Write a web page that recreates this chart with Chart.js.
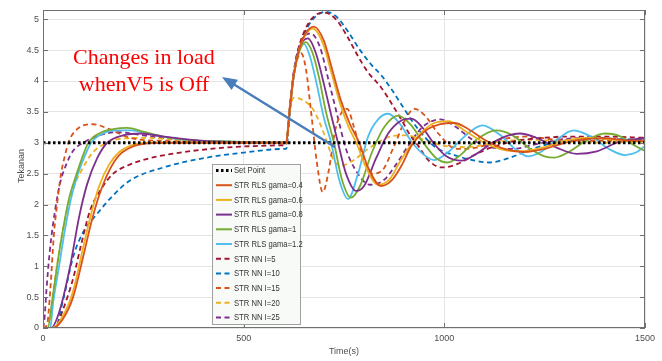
<!DOCTYPE html>
<html lang="en">
  <head>
    <meta charset="UTF-8" />
    <title>Tekanan vs Time</title>
    <script src="https://cdn.jsdelivr.net/npm/chart.js"></script>
    <style>
      body {
        margin: 0;
        background: #fff;
      }
      .wrap {
        position: relative;
        width: 662px;
        height: 361px;
      }
      .note {
        position: absolute;
        left: 44px;
        top: 43px;
        width: 200px;
        text-align: center;
        color: #ff0000;
        font-family: "Liberation Serif", "Times New Roman", serif;
        font-size: 22px;
        line-height: 27px;
      }
    </style>
  </head>
  <body>
    <div class="wrap">
      <canvas id="chart" width="662" height="361"></canvas>
      <div class="note">Changes in load<br />whenV5 is Off</div>
    </div>

    <script>
      // axis ticks
      var xTicks = [0, 500, 1000, 1500];
      var yTicks = [0, 0.5, 1, 1.5, 2, 2.5, 3, 3.5, 4, 4.5, 5];

      // set point
      var spT = [0, 1500];
      var spV = [3, 3];

      // STR RLS
      var rls04T = [0,25,50,75,100,120,140,165,190,220,260,300,600,606,615,625,640,655,675,700,720,742,765,788,810,842,870,895,918,950,990,1025,1060,1100,1150,1200,1250,1300,1350,1400,1450,1500];
      var rls04V = [0,0,0.15,0.5,1.15,1.7,2.15,2.55,2.8,2.93,2.99,3,3,3,3.55,4.1,4.55,4.78,4.88,4.65,4.2,3.69,3.3,3.0,2.6,2.3,2.4,2.65,2.95,3.18,3.3,3.32,3.22,3.05,2.9,2.85,2.9,3.0,3.06,3.07,3.04,3.03];

      var rls06T = [0,22,50,75,100,120,140,165,190,220,260,600,606,615,625,640,655,672,698,718,742,762,782,805,835,865,890,915,945,975,1010,1050,1100,1150,1190,1250,1300,1350,1400,1450,1500];
      var rls06V = [0,0,0.2,0.6,1.3,1.85,2.3,2.65,2.85,2.96,3,3,3,3.55,4.1,4.55,4.76,4.85,4.6,4.15,3.6,3.25,2.98,2.6,2.32,2.42,2.7,2.95,3.18,3.32,3.35,3.2,3.0,2.88,2.86,2.93,3.03,3.08,3.06,3.03,3.02];

      var rls08T = [0,20,40,67,90,110,135,160,200,243,300,400,600,606,615,625,640,660,680,700,718,735,755,780,800,830,860,890,918,945,975,1005,1043,1080,1120,1160,1188,1230,1280,1330,1380,1430,1500];
      var rls08V = [0,0,0.25,0.98,1.8,2.33,2.75,3.0,3.12,3.15,3.1,3.03,3.0,3.0,3.55,4.1,4.55,4.69,4.45,3.95,3.45,3.0,2.5,2.22,2.3,2.75,3.15,3.35,3.39,3.25,2.98,2.78,2.71,2.82,3.0,3.12,3.15,3.08,2.92,2.82,2.86,3.0,3.08];

      var rls10T = [0,12,22,35,50,65,84,100,113,140,175,210,250,300,350,450,600,606,615,625,640,655,672,688,705,725,745,767,790,820,850,885,915,950,980,1008,1040,1080,1130,1170,1210,1250,1275,1310,1350,1400,1440,1475,1500];
      var rls10V = [0,0,0.4,1.0,1.6,2.1,2.5,2.8,3.0,3.15,3.22,3.24,3.18,3.1,3.05,3.02,3.0,3.0,3.55,4.1,4.5,4.63,4.45,4.05,3.5,3.0,2.4,2.11,2.3,2.85,3.25,3.44,3.3,2.98,2.75,2.68,2.8,3.05,3.2,3.12,2.92,2.78,2.76,2.85,3.02,3.15,3.1,2.95,2.87];

      var rls12T = [0,18,25,40,55,70,90,105,120,150,185,220,260,300,350,450,600,606,615,625,638,650,665,682,700,718,738,760,785,810,835,860,890,920,950,975,1010,1050,1095,1140,1180,1208,1240,1280,1322,1370,1410,1450,1480,1500];
      var rls12V = [0,0,0.4,1.0,1.6,2.1,2.55,2.8,3.0,3.15,3.2,3.2,3.15,3.1,3.05,3.02,3.0,3.0,3.55,4.1,4.5,4.6,4.4,3.95,3.4,3.0,2.4,2.09,2.5,3.1,3.38,3.47,3.3,3.0,2.8,2.72,2.85,3.1,3.28,3.12,2.88,2.78,2.85,3.05,3.2,3.08,2.9,2.8,2.85,2.95];

      // STR NN
      var nn5T = [0,30,50,75,95,117,145,175,210,260,330,417,500,600,606,615,625,640,660,680,700,730,760,785,810,842,870,895,915,935,960,993,1030,1080,1120,1180,1248,1300,1400,1500];
      var nn5V = [0,0,0.3,0.8,1.35,1.9,2.25,2.5,2.63,2.74,2.83,2.9,2.94,2.96,2.97,3.55,4.15,4.6,4.92,5.07,5.11,5.0,4.7,4.4,4.14,3.9,3.62,3.35,3.12,2.95,2.72,2.6,2.65,2.82,2.93,3.03,3.08,3.1,3.1,3.08];

      var nn10T = [0,30,50,75,100,135,175,217,300,417,500,600,606,615,625,640,660,680,705,730,760,790,820,842,870,895,920,950,980,1025,1070,1112,1160,1210,1260,1320,1400,1500];
      var nn10V = [0,0,0.45,1.15,1.55,1.85,2.15,2.39,2.6,2.77,2.84,2.9,2.9,3.5,4.1,4.55,4.88,5.05,5.12,5.05,4.8,4.5,4.25,4.1,3.85,3.6,3.35,3.1,2.92,2.8,2.72,2.68,2.75,2.88,2.98,3.04,3.06,3.05];

      var nn15T = [0,10,18,27,35,45,55,63,85,125,165,217,300,600,606,615,628,643,655,668,682,697,712,728,745,758,775,795,820,845,875,905,925,950,985,1030,1080,1140,1200,1280,1400,1500];
      var nn15V = [0,0.05,0.6,1.5,2.0,2.5,2.8,3.0,3.22,3.3,3.22,3.08,3.03,3.0,3.0,3.6,4.2,4.45,4.2,3.5,2.7,2.2,2.55,3.2,3.5,3.55,3.25,2.8,2.5,2.55,2.95,3.4,3.55,3.45,3.15,2.9,2.92,3.05,3.1,3.05,3.03,3.04];

      var nn20T = [0,15,30,50,75,100,125,150,180,250,350,600,606,612,625,650,675,700,725,742,770,810,860,900,950,1000,1060,1120,1200,1300,1400,1500];
      var nn20V = [0,0.1,0.8,1.6,2.25,2.6,2.85,2.97,3.05,3.08,3.04,3.0,3.0,3.4,3.73,3.68,3.52,3.15,2.71,2.63,2.7,2.9,3.09,3.12,3.05,2.95,2.93,3.0,3.05,3.02,3.0,3.02];

      var nn25T = [0,3,9,17,30,42,58,75,100,140,185,250,320,400,600,606,615,625,640,667,690,712,735,755,775,815,850,880,910,945,990,1030,1070,1120,1170,1230,1300,1380,1450,1500];
      var nn25V = [0,0.1,0.65,1.25,1.9,2.33,2.65,2.87,3.0,3.12,3.17,3.12,3.06,3.03,3.0,3.0,3.55,4.15,4.6,4.77,4.55,4.0,3.4,2.9,2.6,2.32,2.4,2.65,2.95,3.25,3.38,3.25,3.05,2.92,2.9,2.98,3.06,3.08,3.05,3.04];

      function pts(t, v) {
        return t.map(function (x, i) {
          return { x: x, y: v[i] };
        });
      }

      var DASH = [5, 3.5];

      function series(label, t, v, color, dashed) {
        return {
          label: label,
          data: pts(t, v),
          borderColor: color,
          borderWidth: 1.8,
          borderDash: dashed ? DASH : [],
          pointRadius: 0,
          fill: false,
          cubicInterpolationMode: "monotone",
        };
      }

      var datasets = [
        {
          label: "Set Point",
          data: pts(spT, spV),
          borderColor: "#000",
          borderWidth: 3,
          borderDash: [2.5, 2.5],
          pointRadius: 0,
          fill: false,
        },
        series("STR RLS gama=0.4", rls04T, rls04V, "#D95319", false),
        series("STR RLS gama=0.6", rls06T, rls06V, "#EDB120", false),
        series("STR RLS gama=0.8", rls08T, rls08V, "#7E2F8E", false),
        series("STR RLS gama=1", rls10T, rls10V, "#77AC30", false),
        series("STR RLS gama=1.2", rls12T, rls12V, "#4DBEEE", false),
        series("STR NN I=5", nn5T, nn5V, "#A2142F", true),
        series("STR NN I=10", nn10T, nn10V, "#0072BD", true),
        series("STR NN I=15", nn15T, nn15V, "#D95319", true),
        series("STR NN I=20", nn20T, nn20V, "#EDB120", true),
        series("STR NN I=25", nn25T, nn25V, "#7E2F8E", true),
      ];

      var TXT = "#4d4d4d";
      var FONT = '"Liberation Sans", Arial, sans-serif';

      // box, inner ticks, axis titles, legend and arrow
      var extras = {
        id: "extras",
        afterDraw: function (chart) {
          var ctx = chart.ctx;
          var a = chart.chartArea;
          var xs = chart.scales.x;
          var ys = chart.scales.y;
          ctx.save();

          // frame
          ctx.strokeStyle = "#707070";
          ctx.lineWidth = 1;
          ctx.setLineDash([]);
          ctx.strokeRect(a.left + 0.5, a.top + 0.5, a.right - a.left - 1, a.bottom - a.top - 1);

          // inner tick marks like matlab
          ctx.beginPath();
          xTicks.forEach(function (v) {
            var px = Math.round(xs.getPixelForValue(v)) + 0.5;
            ctx.moveTo(px, a.bottom);
            ctx.lineTo(px, a.bottom - 5);
            ctx.moveTo(px, a.top);
            ctx.lineTo(px, a.top + 5);
          });
          yTicks.forEach(function (v) {
            var py = Math.round(ys.getPixelForValue(v)) + 0.5;
            ctx.moveTo(a.left, py);
            ctx.lineTo(a.left + 5, py);
            ctx.moveTo(a.right, py);
            ctx.lineTo(a.right - 5, py);
          });
          ctx.stroke();

          // axis titles
          ctx.fillStyle = TXT;
          ctx.font = "9px " + FONT;
          ctx.textAlign = "center";
          ctx.textBaseline = "middle";
          ctx.fillText("Time(s)", (a.left + a.right) / 2, 352);
          ctx.save();
          ctx.translate(22, 166);
          ctx.rotate(-Math.PI / 2);
          ctx.fillText("Tekanan", 0, 0);
          ctx.restore();

          // legend
          var lx = 212, ly = 164, lw = 88, lh = 160;
          ctx.fillStyle = "#f8faf8";
          ctx.fillRect(lx, ly, lw, lh);
          ctx.strokeStyle = "#a0a0a0";
          ctx.strokeRect(lx + 0.5, ly + 0.5, lw, lh);
          chart.data.datasets.forEach(function (ds, i) {
            var y = 170.5 + i * 14.7;
            ctx.strokeStyle = ds.borderColor;
            ctx.lineWidth = i === 0 ? 3 : 2;
            ctx.setLineDash(ds.borderDash || []);
            ctx.beginPath();
            ctx.moveTo(216, y);
            ctx.lineTo(232, y);
            ctx.stroke();
            ctx.setLineDash([]);
            ctx.save();
            ctx.translate(234, y);
            ctx.scale(0.9, 1);
            ctx.fillStyle = "#333";
            ctx.font = "8.5px " + FONT;
            ctx.textAlign = "left";
            ctx.textBaseline = "middle";
            ctx.fillText(ds.label, 0, 0.5);
            ctx.restore();
          });

          // arrow to the annotation
          var x0 = 335, y0 = 147, x1 = 222, y1 = 77;
          var ang = Math.atan2(y1 - y0, x1 - x0);
          ctx.strokeStyle = "#4a7ebb";
          ctx.fillStyle = "#4a7ebb";
          ctx.lineWidth = 2.5;
          ctx.beginPath();
          ctx.moveTo(x0, y0);
          ctx.lineTo(x1 - 10 * Math.cos(ang), y1 - 10 * Math.sin(ang));
          ctx.stroke();
          ctx.beginPath();
          ctx.moveTo(x1, y1);
          ctx.lineTo(x1 - 15 * Math.cos(ang) + 6 * Math.sin(ang), y1 - 15 * Math.sin(ang) - 6 * Math.cos(ang));
          ctx.lineTo(x1 - 15 * Math.cos(ang) - 6 * Math.sin(ang), y1 - 15 * Math.sin(ang) + 6 * Math.cos(ang));
          ctx.closePath();
          ctx.fill();

          ctx.restore();
        },
      };

      new Chart(document.getElementById("chart").getContext("2d"), {
        type: "line",
        data: { datasets: datasets },
        options: {
          responsive: false,
          animation: false,
          layout: { padding: { top: 10, right: 17, left: 0, bottom: 0 } },
          plugins: {
            legend: { display: false },
            tooltip: { enabled: false },
          },
          scales: {
            x: {
              type: "linear",
              min: 0,
              max: 1500,
              afterFit: function (s) {
                s.height = 33;
              },
              afterBuildTicks: function (s) {
                s.ticks = xTicks.map(function (v) {
                  return { value: v };
                });
              },
              grid: { color: "#e4e4e4", drawTicks: false },
              border: { display: false },
              ticks: {
                padding: 5,
                color: TXT,
                font: { family: FONT, size: 9 },
                callback: function (v) {
                  return String(v);
                },
              },
            },
            y: {
              min: 0,
              max: 5.15,
              afterFit: function (s) {
                s.width = 43;
              },
              afterBuildTicks: function (s) {
                s.ticks = yTicks.map(function (v) {
                  return { value: v };
                });
              },
              grid: { color: "#e4e4e4", drawTicks: false },
              border: { display: false },
              ticks: {
                padding: 4,
                color: TXT,
                font: { family: FONT, size: 9 },
                callback: function (v) {
                  return String(v);
                },
              },
            },
          },
        },
        plugins: [extras],
      });
    </script>
  </body>
</html>
